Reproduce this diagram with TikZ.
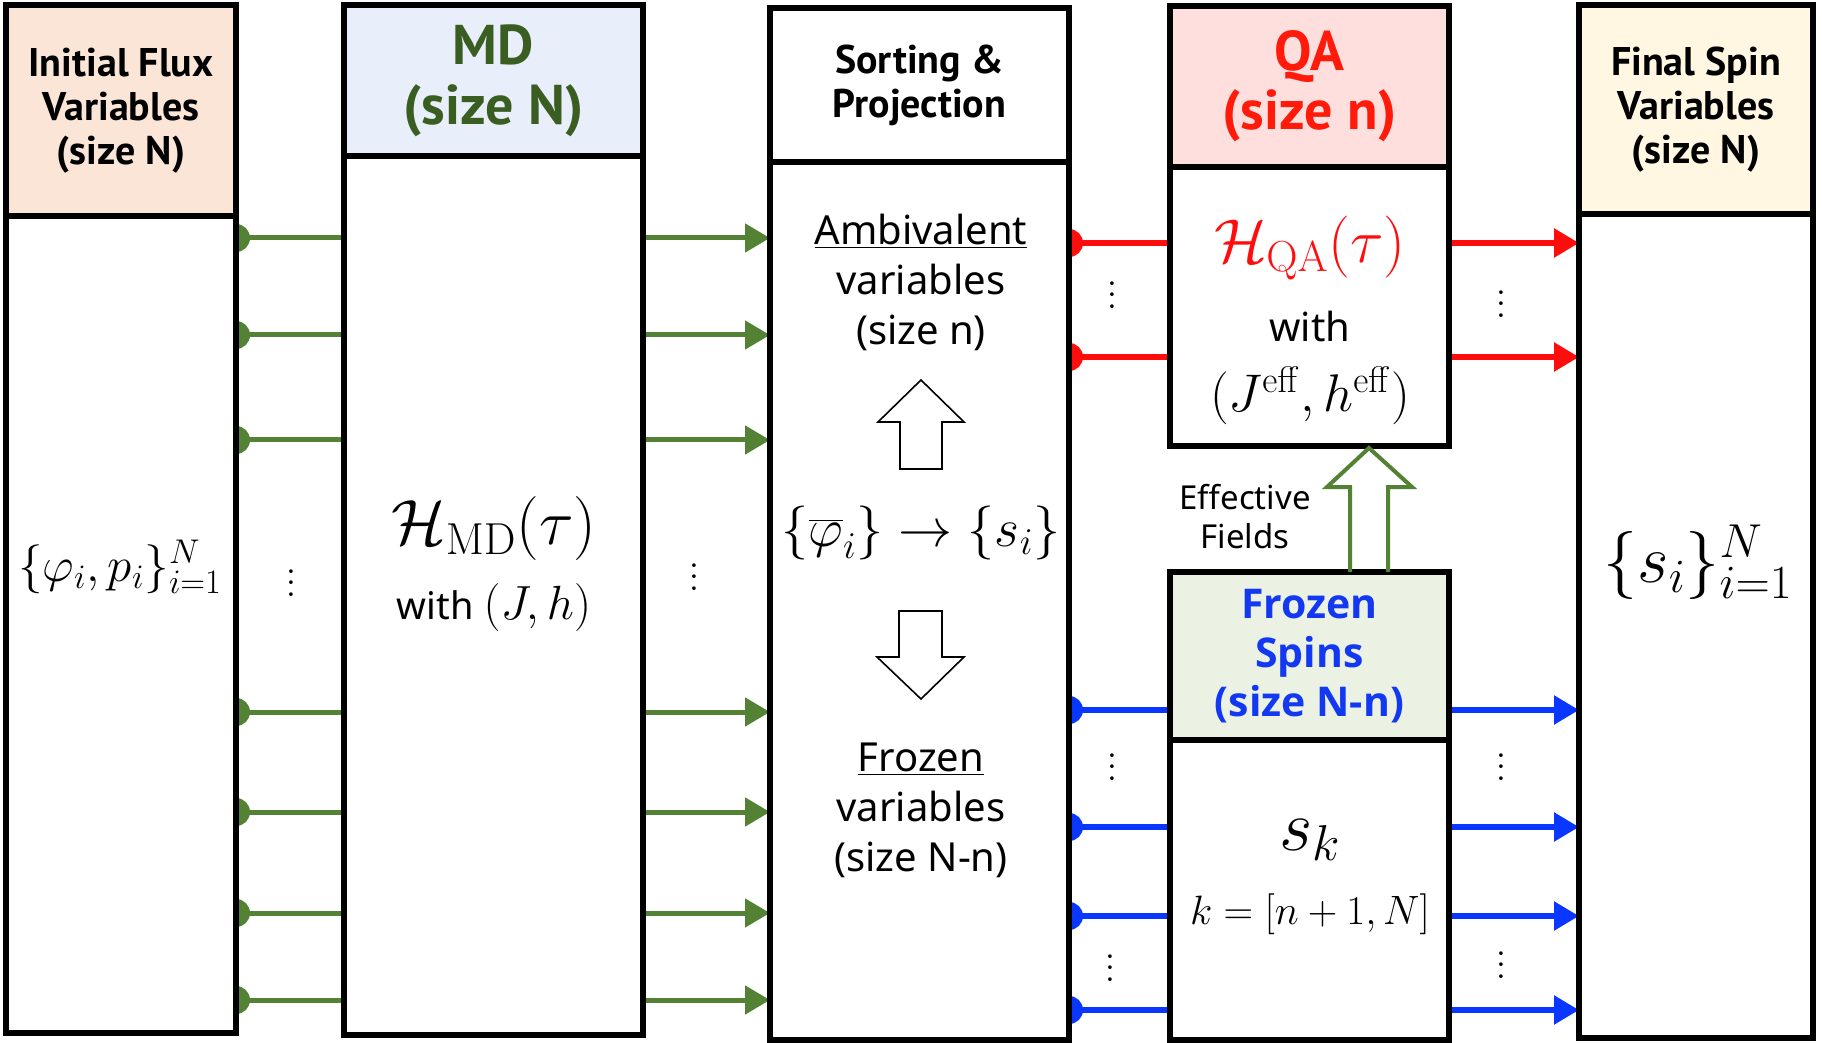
\RequirePackage{fix-cm}
\documentclass[tikz,border=0pt]{standalone}
\usepackage[no-math]{fontspec}
\setmainfont{Noto Sans}
\newfontfamily\hdfont{PT Sans}
\newfontfamily\fzfont{Open Sans}
\usetikzlibrary{arrows.meta,backgrounds}
\definecolor{peach}{HTML}{FBE5D6}
\definecolor{mdfill}{HTML}{E9EEFB}
\definecolor{qafill}{HTML}{FFDEDE}
\definecolor{fzfill}{HTML}{EBF2E4}
\definecolor{finfill}{HTML}{FFF7E1}
\definecolor{mdtext}{HTML}{3A5E22}
\definecolor{garr}{HTML}{548235}
\definecolor{rarr}{HTML}{FF0D0D}
\definecolor{barr}{HTML}{0A37FF}
\definecolor{qatext}{HTML}{FF1A0A}
\definecolor{fztext}{HTML}{1238F2}
\newcommand{\myvdots}{\vbox{\baselineskip5.6pt\lineskiplimit0pt\hbox{$.$}\hbox{$.$}\hbox{$.$}}}
\begin{document}
\begin{tikzpicture}[x=0.5pt,y=-0.5pt,
  box/.style={draw=black, line width=3pt, inner sep=0pt, outer sep=0pt, anchor=north west, fill=white, align=center},
  hd/.style={box, font=\hdfont\bfseries\fontsize{20}{22}\selectfont},
  hdbig/.style={box, font=\hdfont\bfseries\fontsize{28}{30}\selectfont},
  hdfz/.style={box, font=\fzfont\bfseries\fontsize{20.5}{24.5}\selectfont},
  txt/.style={align=center, inner sep=0pt, font=\fontsize{20}{25}\selectfont},
  dd/.style={inner sep=0pt, font=\fontsize{19}{20}\selectfont},
  gline/.style={draw=garr, line width=2.5pt},
  rline/.style={draw=rarr, line width=2.8pt},
  bline/.style={draw=barr, line width=2.8pt},
  tipg/.style={-{Triangle[length=12.5pt,width=14pt]}},
  hollow/.style={draw=black, line width=0.8pt, fill=white, line join=miter},
]
\useasboundingbox (0,0) rectangle (1822,1043);

% boxes
\node[box, minimum width=115pt, minimum height=408.5pt] (b1) at (6,216) {};
\node[hd, fill=peach, minimum width=115pt, minimum height=105.5pt] (h1) at (6,5) {Initial Flux\\Variables\\(size N)};

\node[box, minimum width=149.5pt, minimum height=439.5pt] (b2) at (344,156) {};
\node[hdbig, fill=mdfill, text=mdtext, minimum width=149.5pt, minimum height=75.5pt] (h2) at (344,5) {MD\\(size N)};

\node[box, minimum width=149.5pt, minimum height=439pt] (b3) at (770,162) {};
\node[hd, minimum width=149.5pt, minimum height=77pt] (h3) at (770,8) {Sorting \&\\Projection};

\node[box, minimum width=139.5pt, minimum height=139.5pt] (b4) at (1170,167) {};
\node[hdbig, fill=qafill, text=qatext, font=\hdfont\bfseries\fontsize{28}{29.5}\selectfont, minimum width=139.5pt, minimum height=80.5pt] (h4) at (1170,6) {QA\\(size n)};

\node[box, minimum width=139.5pt, minimum height=150pt] (b5) at (1170,740) {};
\node[hdfz, fill=fzfill, text=fztext, minimum width=139.5pt, minimum height=84pt] (h5) at (1170,572) {Frozen\\Spins\\(size N-n)};

\node[box, minimum width=117pt, minimum height=412pt] (b6) at (1579,214) {};
\node[hd, fill=finfill, minimum width=117pt, minimum height=104.5pt] (h6) at (1579,5) {Final Spin\\Variables\\(size N)};

% row coordinates
\foreach \i/\y in {1/238,2/335,3/440,4/712,5/812,6/913,7/1000} {\coordinate (g\i) at (0,\y);}
\foreach \i/\y in {1/243,2/357} {\coordinate (r\i) at (0,\y);}
\foreach \i/\y in {1/710,2/827,3/916,4/1010} {\coordinate (u\i) at (0,\y);}

% connectors (behind boxes)
\begin{scope}[on background layer]
\foreach \i in {1,...,7} {
  \draw[gline] (b1.east |- g\i) -- (b2.west |- g\i);
  \fill[garr] (b1.east |- g\i) circle (7pt);
  \draw[gline, tipg] (b2.east |- g\i) -- (b3.west |- g\i);
}
\foreach \i in {1,2} {
  \draw[rline] (b3.east |- r\i) -- (b4.west |- r\i);
  \fill[rarr] (b3.east |- r\i) circle (7pt);
  \draw[rline, tipg] (b4.east |- r\i) -- (b6.west |- r\i);
}
\foreach \i in {1,...,4} {
  \draw[bline] (b3.east |- u\i) -- (b5.west |- u\i);
  \fill[barr] (b3.east |- u\i) circle (7pt);
  \draw[bline, tipg] (b5.east |- u\i) -- (b6.west |- u\i);
}
\end{scope}

% vertical dots
\node[dd] (d1) at (291,583) {\myvdots};
\node[dd] (d2) at (694,577) {\myvdots};
\node[dd] (d3) at (1112,295) {\myvdots};
\node[dd] (d4) at (1501,304) {\myvdots};
\node[dd] (d5) at (1112,767) {\myvdots};
\node[dd] (d6) at (1110,968) {\myvdots};
\node[dd] (d7) at (1501,767) {\myvdots};
\node[dd] (d8) at (1501,965) {\myvdots};

% box contents
\node[inner sep=0pt] (phi) at (120,567) {\fontsize{24.5}{28}\selectfont$\{\varphi_i,p_i\}_{i=1}^{N}$};
\node[inner sep=0pt] (hmd) at (494,529) {\fontsize{32}{38}\selectfont$\mathcal{H}_{\mathrm{MD}}(\tau)$};
\node[inner sep=0pt] (wmd) at (494,607) {\fontsize{19}{24}\selectfont with \fontsize{24}{28}\selectfont$(J,h)$};

\node[txt] (amb) at (921,282) {\underline{Ambivalent}\\variables\\(size n)};
\node[inner sep=0pt] (proj) at (921,533) {\fontsize{27}{31}\selectfont$\{\overline{\varphi}_i\}\to\{s_i\}$};
\node[txt] (frz) at (921,810) {\underline{Frozen}\\variables\\(size N-n)};

\draw[hollow] (900,469) -- (900,422) -- (878,422) -- (921,380) -- (964,422) -- (942,422) -- (942,469) -- cycle;
\draw[hollow] (899,611) -- (942,611) -- (942,657) -- (964,657) -- (921,699) -- (877,657) -- (899,657) -- cycle;

\node[inner sep=0pt, text=rarr] (hqa) at (1310,248) {\fontsize{31}{36}\selectfont$\mathcal{H}_{\mathrm{QA}}(\tau)$};
\node[txt] (wqa) at (1310,327) {with};
\node[inner sep=0pt] (jh) at (1310,396) {\fontsize{26.5}{31}\selectfont$(J^{\mathrm{eff}},h^{\mathrm{eff}})$};

\node[inner sep=0pt] (sk) at (1310,840) {\fontsize{36}{42}\selectfont$s_k$};
\node[inner sep=0pt] (krange) at (1310,914) {\fontsize{20.5}{24}\selectfont$k=[n+1,N]$};

\node[inner sep=0pt] (sfin) at (1698,562) {\fontsize{34}{40}\selectfont$\{s_i\}_{i=1}^{N}$};

% effective fields arrow
\draw[draw=garr, line width=2pt, line join=miter] (1350,572) -- (1350,487) -- (1327,487) -- (1369,448) -- (1412,487) -- (1388,487) -- (1388,572);
\node[align=center, inner sep=0pt, font=\fontsize{16.5}{19.5}\selectfont] (eff) at (1245,517) {Effective\\Fields};
\end{tikzpicture}
\end{document}
